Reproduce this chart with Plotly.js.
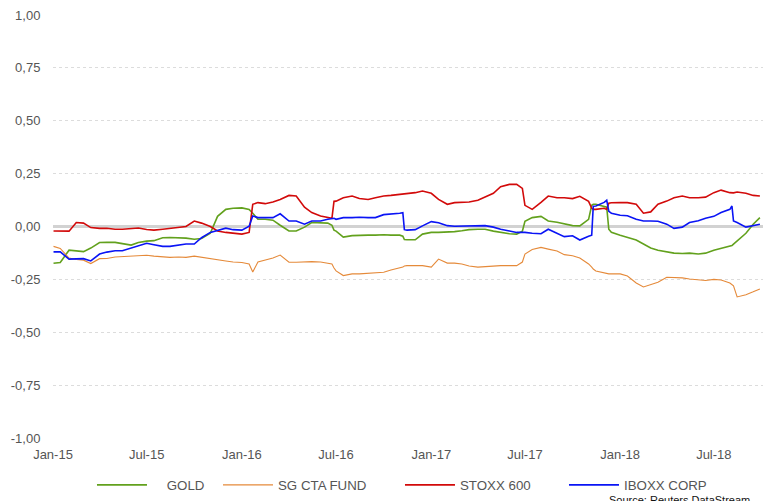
<!DOCTYPE html>
<html>
<head>
<meta charset="utf-8">
<script src="https://cdn.plot.ly/plotly-3.0.1.min.js"></script>
<style>html,body{margin:0;padding:0;background:#fff;}#chart{width:763px;height:501px;}</style>
</head>
<body>
<div id="chart"></div>
<script>
const dates = [
'2015-01-02','2015-01-15','2015-02-01','2015-02-15','2015-03-01','2015-03-15','2015-04-01','2015-04-15','2015-05-01','2015-05-15',
'2015-06-01','2015-06-15','2015-07-01','2015-07-15','2015-08-01','2015-08-15','2015-09-01','2015-09-15','2015-10-01','2015-10-15',
'2015-11-01','2015-11-15','2015-12-01','2015-12-15','2016-01-01','2016-01-15','2016-01-22','2016-02-01','2016-02-15','2016-03-01',
'2016-03-15','2016-04-01','2016-04-15','2016-05-01','2016-05-15','2016-06-01','2016-06-15','2016-06-23','2016-06-27','2016-07-01',
'2016-07-15','2016-08-01','2016-08-15','2016-09-01','2016-09-15','2016-10-01','2016-10-15','2016-11-01','2016-11-07','2016-11-10',
'2016-11-15','2016-12-01','2016-12-15','2017-01-01','2017-01-15','2017-02-01','2017-02-15','2017-03-01','2017-03-15','2017-04-01',
'2017-04-15','2017-05-01','2017-05-15','2017-06-01','2017-06-15','2017-06-26','2017-07-01','2017-07-15','2017-08-01','2017-08-15',
'2017-09-01','2017-09-15','2017-10-01','2017-10-15','2017-11-01','2017-11-07','2017-11-10','2017-11-15','2017-12-01','2017-12-06',
'2017-12-10','2017-12-15','2018-01-01','2018-01-15','2018-02-01','2018-02-15','2018-03-01','2018-03-15','2018-04-01','2018-04-15',
'2018-05-01','2018-05-15','2018-06-01','2018-06-15','2018-07-01','2018-07-15','2018-08-01','2018-08-05','2018-08-08','2018-08-15',
'2018-09-01','2018-09-15','2018-09-28'
];

const gold = [
-0.174,-0.170,-0.112,-0.116,-0.119,-0.102,-0.076,-0.075,-0.075,-0.081,
-0.088,-0.076,-0.069,-0.067,-0.053,-0.052,-0.052,-0.055,-0.060,-0.057,
-0.032,0.048,0.081,0.086,0.088,0.081,0.063,0.034,0.034,0.030,
0.006,-0.021,-0.021,-0.003,0.019,0.019,0.016,0.006,-0.017,-0.022,
-0.050,-0.043,-0.041,-0.041,-0.041,-0.039,-0.041,-0.041,-0.046,-0.062,
-0.063,-0.063,-0.036,-0.028,-0.028,-0.027,-0.024,-0.020,-0.015,-0.013,
-0.013,-0.022,-0.028,-0.034,-0.036,-0.022,0.025,0.042,0.048,0.026,
0.020,0.011,0.004,0.003,0.034,0.100,0.105,0.105,0.096,0.091,
-0.013,-0.027,-0.041,-0.053,-0.064,-0.083,-0.102,-0.112,-0.119,-0.126,
-0.128,-0.126,-0.130,-0.126,-0.112,-0.102,-0.093,-0.090,-0.083,-0.069,
-0.032,0.011,0.042
];

const sgCta = [
-0.094,-0.104,-0.149,-0.156,-0.159,-0.175,-0.152,-0.151,-0.144,-0.142,
-0.137,-0.135,-0.136,-0.140,-0.144,-0.146,-0.144,-0.146,-0.140,-0.146,
-0.152,-0.159,-0.163,-0.168,-0.170,-0.177,-0.215,-0.168,-0.159,-0.149,
-0.135,-0.169,-0.169,-0.166,-0.166,-0.168,-0.173,-0.177,-0.196,-0.210,
-0.232,-0.224,-0.224,-0.220,-0.217,-0.216,-0.206,-0.196,-0.192,-0.187,
-0.185,-0.185,-0.185,-0.192,-0.154,-0.173,-0.173,-0.177,-0.187,-0.192,
-0.189,-0.187,-0.185,-0.185,-0.185,-0.168,-0.130,-0.109,-0.099,-0.107,
-0.116,-0.133,-0.138,-0.149,-0.177,-0.192,-0.201,-0.210,-0.220,-0.224,
-0.224,-0.224,-0.224,-0.234,-0.267,-0.286,-0.276,-0.264,-0.240,-0.240,
-0.243,-0.248,-0.253,-0.255,-0.250,-0.253,-0.267,-0.274,-0.281,-0.333,
-0.323,-0.309,-0.295
];

const stoxx600 = [
-0.021,-0.021,-0.022,0.019,0.016,-0.005,-0.009,-0.008,-0.013,-0.013,
-0.011,-0.007,-0.014,-0.017,-0.013,-0.009,-0.005,0.000,0.026,0.016,
0.000,-0.021,-0.028,-0.033,-0.036,-0.028,0.105,0.113,0.108,0.116,
0.128,0.147,0.144,0.091,0.066,0.050,0.042,0.039,0.119,0.120,
0.136,0.144,0.132,0.128,0.136,0.144,0.147,0.152,0.152,0.152,
0.157,0.160,0.168,0.157,0.128,0.105,0.113,0.113,0.116,0.124,
0.141,0.157,0.188,0.199,0.199,0.180,0.100,0.081,0.114,0.144,
0.136,0.136,0.132,0.143,0.119,0.086,0.081,0.081,0.086,0.081,
0.110,0.112,0.113,0.113,0.105,0.063,0.069,0.105,0.120,0.136,
0.144,0.136,0.136,0.139,0.160,0.172,0.160,0.159,0.159,0.163,
0.157,0.147,0.144
];

const iboxxCorp = [
-0.120,-0.120,-0.154,-0.152,-0.152,-0.163,-0.130,-0.121,-0.115,-0.115,
-0.102,-0.094,-0.079,-0.086,-0.094,-0.094,-0.086,-0.083,-0.083,-0.053,
-0.028,-0.020,-0.008,-0.015,-0.017,0.001,0.050,0.042,0.042,0.042,
0.060,0.026,0.026,0.011,0.026,0.026,0.034,0.039,0.039,0.034,
0.042,0.042,0.044,0.042,0.042,0.056,0.058,0.063,0.065,-0.015,
-0.017,-0.015,0.003,0.023,0.018,0.004,0.001,0.001,0.001,0.004,
0.004,-0.003,-0.013,-0.021,-0.028,-0.028,-0.028,-0.032,-0.034,-0.013,
-0.032,-0.048,-0.044,-0.064,-0.046,-0.041,0.096,0.097,0.114,0.124,
0.072,0.063,0.053,0.051,0.034,0.026,0.026,0.025,0.011,-0.009,
-0.003,0.019,0.027,0.039,0.048,0.066,0.081,0.097,0.026,0.019,
-0.003,0.003,0.011
];

const seriesNames = ['GOLD', 'SG CTA FUND', 'STOXX 600', 'IBOXX CORP'];
const tickVals = ['2015-01-01','2015-07-01','2016-01-01','2016-07-01','2017-01-01','2017-07-01','2018-01-01','2018-07-01'];
const tickText = ['Jan-15','Jul-15','Jan-16','Jul-16','Jan-17','Jul-17','Jan-18','Jul-18'];
const yTicks = [-1, -0.75, -0.5, -0.25, 0, 0.25, 0.5, 0.75, 1];
const yTickText = ['-1,00', '-0,75', '-0,50', '-0,25', '0,00', '0,25', '0,50', '0,75', '1,00'];

const colors = ['#62a11d', '#e58a3a', '#d20a0a', '#0a14f5'];
const widths = [1.6, 1.1, 1.6, 1.6];
const values = [gold, sgCta, stoxx600, iboxxCorp];
const legendIds = ['legend', 'legend2', 'legend3', 'legend4'];
const legendX = [0.0549, 0.2324, 0.4887, 0.7197];

const traces = values.map((v, i) => ({
  x: dates, y: v, type: 'scatter', mode: 'lines',
  name: i === 0 ? '\u00a0\u00a0\u00a0\u00a0GOLD' : seriesNames[i],
  legend: legendIds[i],
  line: {color: colors[i], width: widths[i]},
  hoverinfo: 'x+y+name'
}));

const layout = {
  width: 763, height: 501,
  margin: {l: 53, r: 0, t: 15, b: 61},
  paper_bgcolor: '#fff', plot_bgcolor: '#fff',
  separators: ',.',
  font: {family: 'Liberation Sans, Arial, sans-serif', size: 13, color: '#555'},
  xaxis: {
    type: 'date', range: ['2015-01-01', '2018-10-04'],
    tickmode: 'array', tickvals: tickVals, ticktext: tickText,
    showgrid: false, zeroline: false, showline: false,
    ticks: 'outside', ticklen: 4, tickcolor: 'rgba(0,0,0,0)',
    tickfont: {size: 13, color: '#555'}
  },
  yaxis: {
    range: [-1, 1], tickmode: 'array', tickvals: yTicks, ticktext: yTickText,
    showgrid: true, gridcolor: '#dcdcdc', griddash: 'dot', gridwidth: 1,
    zeroline: true, zerolinecolor: '#d2d2d2', zerolinewidth: 3.5,
    showline: false, ticks: 'outside', ticklen: 9, tickcolor: 'rgba(0,0,0,0)',
    tickfont: {size: 13, color: '#555'}
  },
  showlegend: true,
  annotations: [{
    text: 'Source: Reuters DataStream', xref: 'paper', yref: 'paper',
    x: 0.985, y: -0.128, xanchor: 'right', yanchor: 'top', showarrow: false,
    font: {size: 11, color: '#111'}
  }]
};
legendIds.forEach((id, i) => {
  layout[id] = {
    orientation: 'h', x: legendX[i], xanchor: 'left', y: -0.075, yanchor: 'top',
    font: {size: 13.3, color: '#555'}, itemwidth: 50,
    bgcolor: 'rgba(0,0,0,0)', itemclick: false, itemdoubleclick: false
  };
});

Plotly.newPlot('chart', traces, layout, {displayModeBar: false, staticPlot: true});
</script>
</body>
</html>
